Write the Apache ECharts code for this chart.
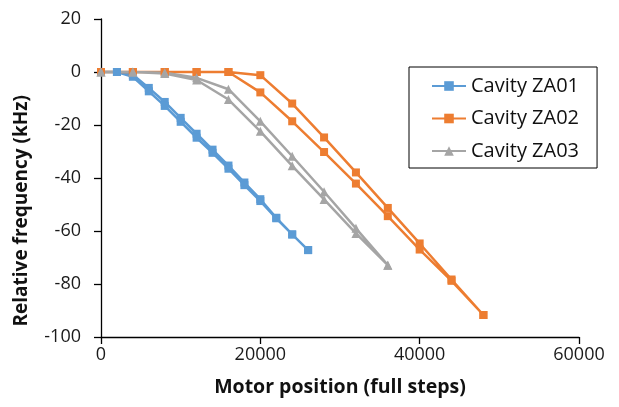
<!DOCTYPE html>
<html>
<head>
<meta charset="utf-8">
<script src="https://cdn.jsdelivr.net/npm/echarts@6/dist/echarts.min.js"></script>
<style>html,body{margin:0;padding:0;background:#fff}#c{width:619px;height:407px}</style>
</head>
<body>
<div id="c"></div>
<script>
// ---- data ----
const za01Steps = [0, 2000, 4000, 6000, 8000, 10000, 12000, 14000, 16000, 18000, 20000, 22000, 24000, 26000];
const za01Upper = [0, 0, -1, -6, -11.3, -17.3, -23.3, -29.3, -35.3, -41.7, -48, -55, -61.3, -67.2];
const za01Lower = [0, 0, -1.8, -7.3, -12.8, -18.8, -24.8, -30.5, -36.5, -42.7, -48.7, -55.2, -61.3, -67.2];

const za02Steps = [0, 4000, 8000, 12000, 16000, 20000, 24000, 28000, 32000, 36000, 40000, 44000, 48000];
const za02Upper = [0, 0, 0, 0, 0, -1.2, -11.9, -24.7, -37.9, -51.3, -64.7, -78.3, -91.7];
const za02Lower = [0, 0, 0, 0, 0, -7.7, -18.6, -30.2, -42.1, -54.4, -67, -78.8, -91.7];

const za03Steps = [0, 4000, 8000, 12000, 16000, 20000, 24000, 28000, 32000, 36000];
const za03Upper = [0, 0, -0.3, -2.2, -6.5, -18.6, -31.8, -45.2, -59, -72.9];
const za03Lower = [0, 0, -0.6, -3, -10.4, -22.4, -35.4, -48.1, -60.9, -72.9];

const seriesNames = ['Cavity ZA01', 'Cavity ZA02', 'Cavity ZA03'];
const xTicks = { min: 0, max: 60000, interval: 20000 };
const yTicks = { min: -100, max: 20, interval: 20 };

// loop: out along the upper branch, back along the lower branch
function loop(steps, up, down) {
  const pts = steps.map((s, i) => [s, up[i]]);
  for (let i = steps.length - 1; i >= 0; i--) pts.push([steps[i], down[i]]);
  return pts;
}

const colors = ['#5B9BD5', '#ED7D31', '#A5A5A5'];
const FONT = 'Open Sans';

const chart = echarts.init(document.getElementById('c'), null, { renderer: 'canvas' });
chart.setOption({
  animation: false,
  color: colors,
  grid: { left: 101, right: 40, top: 19, bottom: 70, containLabel: false },
  xAxis: {
    type: 'value', min: xTicks.min, max: xTicks.max, interval: xTicks.interval,
    name: 'Motor position (full steps)', nameLocation: 'middle', nameGap: 40,
    nameTextStyle: { fontFamily: FONT, fontSize: 19.5, fontWeight: 'bold', color: '#111' },
    axisLine: { onZero: false, lineStyle: { color: '#000', width: 1.3 } },
    axisTick: { show: true, inside: false, length: 7, lineStyle: { color: '#000', width: 1.3 } },
    axisLabel: { fontFamily: FONT, fontSize: 18, color: '#1a1a1a', margin: 9,
      formatter: v => String(v) },
    splitLine: { show: false }
  },
  yAxis: {
    type: 'value', min: yTicks.min, max: yTicks.max, interval: yTicks.interval,
    axisLine: { show: true, onZero: false, lineStyle: { color: '#000', width: 1.3 } },
    axisTick: { show: true, inside: false, length: 7, lineStyle: { color: '#000', width: 1.3 } },
    axisLabel: { fontFamily: FONT, fontSize: 18, color: '#1a1a1a', margin: 20 },
    splitLine: { show: false }
  },
  graphic: [{
    type: 'text', left: 12, top: 95,
    style: { text: 'Relative frequency (kHz)', fontFamily: FONT, fontSize: 19, fontWeight: 'bold', fill: '#111' },
    rotation: Math.PI / 2, originX: 0, originY: 0
  }],
  legend: {
    orient: 'vertical', left: 409, top: 67,
    data: seriesNames,
    backgroundColor: '#fff', borderColor: '#000', borderWidth: 1,
    padding: [9, 18, 7, 22],
    itemWidth: 34, itemHeight: 12, itemGap: 12.5,
    textStyle: { fontFamily: FONT, fontSize: 20, color: '#111', lineHeight: 20 }
  },
  series: [
    { name: seriesNames[0], type: 'line', data: loop(za01Steps, za01Upper, za01Lower),
      symbol: 'rect', symbolSize: 8, lineStyle: { width: 2.5 }, itemStyle: { color: colors[0] } },
    { name: seriesNames[1], type: 'line', data: loop(za02Steps, za02Upper, za02Lower),
      symbol: 'rect', symbolSize: 8, lineStyle: { width: 2.5 }, itemStyle: { color: colors[1] } },
    { name: seriesNames[2], type: 'line', data: loop(za03Steps, za03Upper, za03Lower),
      symbol: 'triangle', symbolSize: 9, lineStyle: { width: 2.5 }, itemStyle: { color: colors[2] } }
  ]
});
</script>
</body>
</html>
